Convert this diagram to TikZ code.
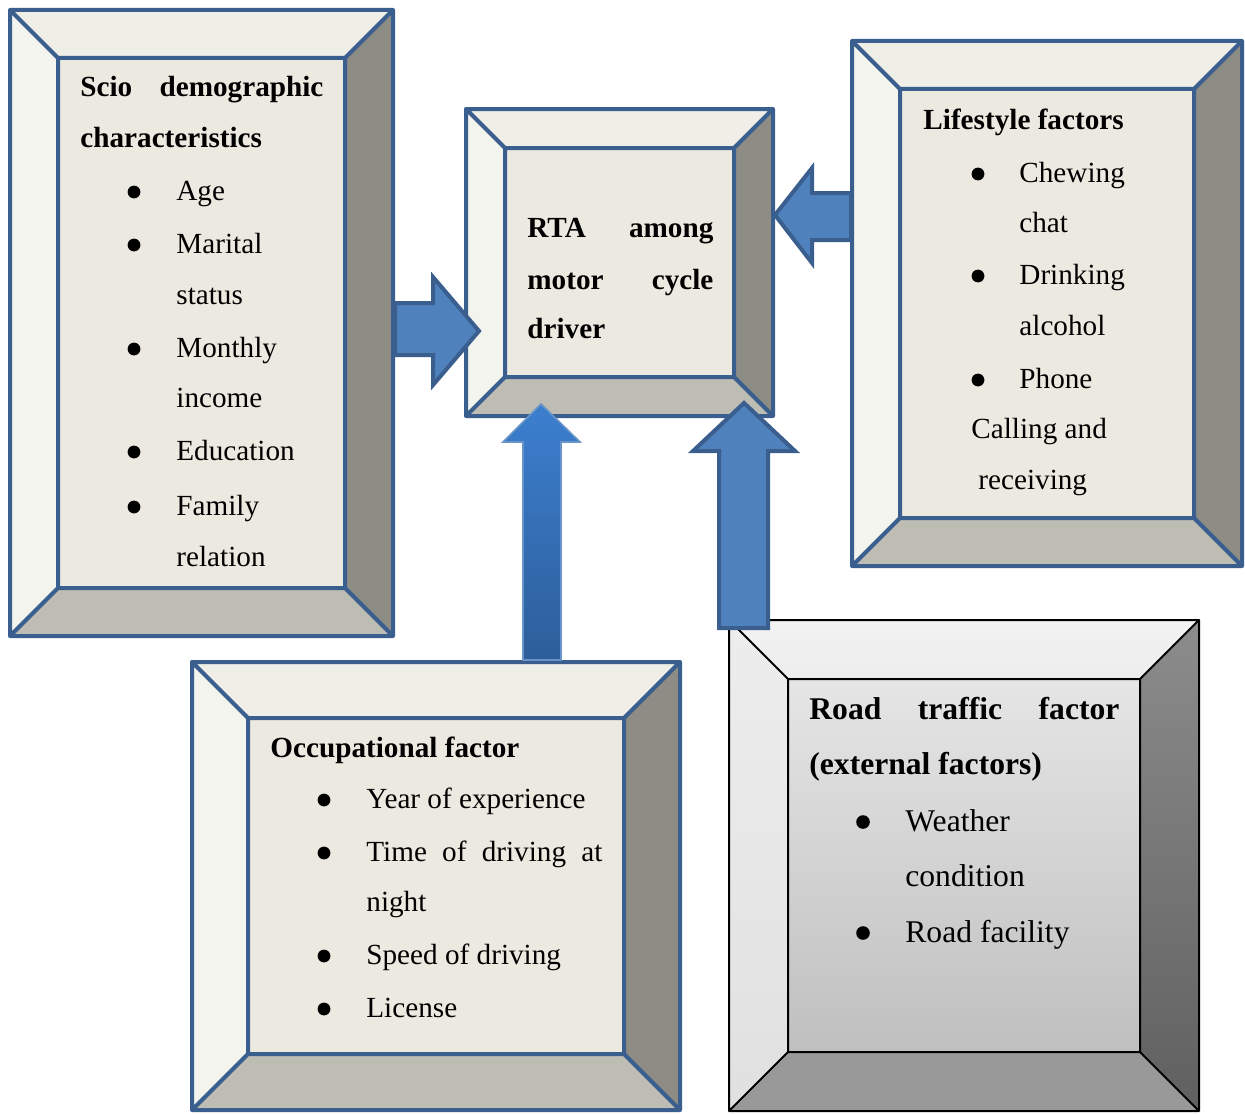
\documentclass[tikz,border=0pt]{standalone}
\usepackage{fontspec}
\setmainfont{Liberation Serif}
\usetikzlibrary{calc}

\definecolor{boxblue}{HTML}{3A5E8E}
\definecolor{arrowblue}{HTML}{4F81BD}
\definecolor{arrowtop}{HTML}{3C7FCF}
\definecolor{arrowfoot}{HTML}{2D5E9A}
\definecolor{bevtop}{HTML}{EFEEE7}
\definecolor{bevleft}{HTML}{F4F4EE}
\definecolor{bevface}{HTML}{ECEAE0}
\definecolor{bevright}{HTML}{8D8C85}
\definecolor{bevbottom}{HTML}{BDBDB4}

\tikzset{
  blue top/.style={fill=bevtop},
  blue left/.style={fill=bevleft},
  blue face/.style={fill=bevface},
  blue right/.style={fill=bevright},
  blue bottom/.style={fill=bevbottom},
  blue line/.style={draw=boxblue, line width=2pt, line join=round},
  gray top/.style={top color=gray!10, bottom color=gray!14},
  gray left/.style={top color=gray!14, bottom color=gray!24},
  gray face/.style={top color=gray!20, bottom color=gray!50},
  gray right/.style={top color=gray!90!white, bottom color=gray!75!black},
  gray bottom/.style={fill=gray!80},
  gray line/.style={draw=black, line width=1pt, line join=round},
  txt/.style={anchor=base west, inner sep=0pt, font=\fontsize{14.6}{26}\selectfont},
  head/.style={txt, font=\fontsize{14.6}{26}\selectfont\bfseries},
  bigtxt/.style={txt, font=\fontsize{15.8}{28}\selectfont},
  bighead/.style={txt, font=\fontsize{15.8}{28}\selectfont\bfseries},
  blockarrow/.style={fill=arrowblue, draw=boxblue, line width=2pt, line join=miter}
}

% #1 name, #2-#5 outer corners, #6 bevel, #7 colour set
\newcommand{\bevelbox}[7]{
  \coordinate (#1 o1) at (#2,#3);
  \coordinate (#1 o2) at (#4,#3);
  \coordinate (#1 o3) at (#4,#5);
  \coordinate (#1 o4) at (#2,#5);
  \coordinate (#1 i1) at (#2+#6,#3+#6);
  \coordinate (#1 i2) at (#4-#6,#3+#6);
  \coordinate (#1 i3) at (#4-#6,#5-#6);
  \coordinate (#1 i4) at (#2+#6,#5-#6);
  \path[#7 top] (#1 o1) -- (#1 o2) -- (#1 i2) -- (#1 i1) -- cycle;
  \path[#7 left] (#1 o1) -- (#1 i1) -- (#1 i4) -- (#1 o4) -- cycle;
  \path[#7 right] (#1 o2) -- (#1 o3) -- (#1 i3) -- (#1 i2) -- cycle;
  \path[#7 bottom] (#1 o4) -- (#1 i4) -- (#1 i3) -- (#1 o3) -- cycle;
  \path[#7 face] (#1 i1) rectangle (#1 i3);
  \draw[#7 line] (#1 o1) rectangle (#1 o3) (#1 i1) rectangle (#1 i3)
    (#1 o1) -- (#1 i1) (#1 o2) -- (#1 i2) (#1 o3) -- (#1 i3) (#1 o4) -- (#1 i4);
}

\begin{document}
\begin{tikzpicture}[x=0.5pt,y=-0.5pt]
  \useasboundingbox (0,0) rectangle (1245,1113);

  % boxes
  \bevelbox{scio}{10}{10}{393}{636}{48}{blue}
  \bevelbox{rta}{466}{109}{773}{416}{39}{blue}
  \bevelbox{life}{852}{41}{1242}{566}{48}{blue}
  \bevelbox{occ}{192}{662}{680}{1110}{56}{blue}
  \bevelbox{road}{729}{620}{1199}{1111}{59}{gray}

  % socio demographic
  \node[head] (scio t1) at (80,97) {\makebox[121.5pt][s]{Scio demographic}};
  \node[head] (scio t2) at (80,147) {characteristics};
  \foreach \y/\t [count=\i] in {200/Age, 253/Marital, 304/status, 357/Monthly,
      407/income, 460/Education, 515/Family, 566/relation}
    \node[txt] (scio\i) at (176,\y) {\t};
  \foreach \y in {200,253,357,460,515}
    \fill (134,\y-8) circle (3.2pt);

  % centre
  \node[head] (rta t1) at (527,237) {\makebox[93pt][s]{RTA among}};
  \node[head] (rta t2) at (527,289) {\makebox[93pt][s]{motor cycle}};
  \node[head] (rta t3) at (527,338) {driver};

  % lifestyle
  \node[head] (life t) at (923,129) {Lifestyle factors};
  \foreach \y/\t [count=\i] in {182/Chewing, 232/chat, 284/Drinking, 335/alcohol, 388/Phone}
    \node[txt] (life\i) at (1019,\y) {\t};
  \node[txt] (life6) at (971,438) {Calling and};
  \node[txt] (life7) at (978,489) {receiving};
  \foreach \y in {182,284,388}
    \fill (978,\y-8) circle (3.2pt);

  % occupational
  \node[head] (occ t) at (270,757) {Occupational factor};
  \node[txt] (occ1) at (366,808) {Year of experience};
  \node[txt] (occ2) at (366,861) {\makebox[118pt][s]{Time of driving at}};
  \node[txt] (occ3) at (366,911) {night};
  \node[txt] (occ4) at (366,964) {Speed of driving};
  \node[txt] (occ5) at (366,1017) {License};
  \foreach \y in {808,861,964,1017}
    \fill (324,\y-8) circle (3.2pt);

  % road traffic
  \node[bighead] (road t1) at (809,719) {\makebox[155pt][s]{Road traffic factor}};
  \node[bighead] (road t2) at (809,774) {(external factors)};
  \node[bigtxt] (road1) at (905,831) {Weather};
  \node[bigtxt] (road2) at (905,886) {condition};
  \node[bigtxt] (road3) at (905,942) {Road facility};
  \foreach \y in {831,942}
    \fill (863,\y-9) circle (3.4pt);

  % arrows
  \draw[blockarrow] (395,303) -- (433,303) -- (433,277) -- (479,331)
    -- (433,385) -- (433,355) -- (395,355) -- cycle;
  \draw[blockarrow] (851,193) -- (812,193) -- (812,168) -- (775,215)
    -- (812,263) -- (812,240) -- (851,240) -- cycle;
  \draw[top color=arrowtop, bottom color=arrowfoot,
        draw=arrowblue!85!white, line width=0.8pt]
    (523,660) -- (523,442) -- (503,442) -- (541,404) -- (580,442)
    -- (561,442) -- (561,660) -- cycle;
  \draw[blockarrow] (719,628) -- (719,451) -- (693,451) -- (744,403)
    -- (795,451) -- (768,451) -- (768,628) -- cycle;
\end{tikzpicture}
\end{document}
